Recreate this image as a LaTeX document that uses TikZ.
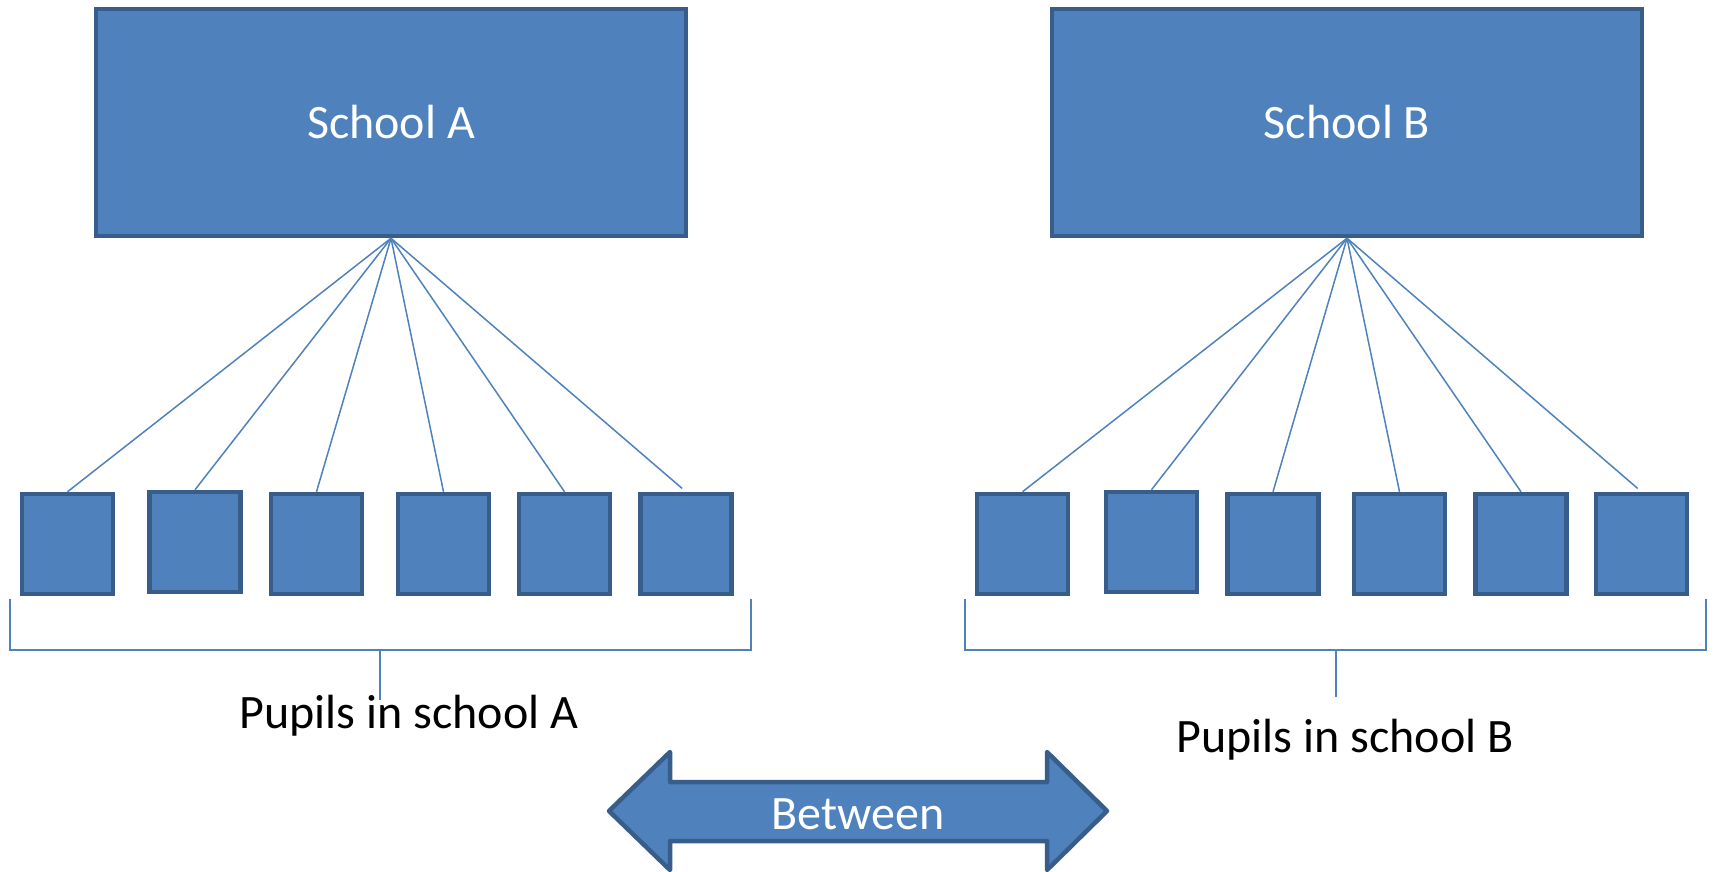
\documentclass[tikz,border=0pt]{standalone}
\usepackage{fontspec}
\setmainfont{Carlito}
\definecolor{boxfill}{HTML}{4F81BD}
\definecolor{boxedge}{HTML}{385D8A}
\tikzset{
  school/.style={draw=boxedge, fill=boxfill, line width=4.5pt, minimum width=590pt, minimum height=227pt, inner sep=0pt, text=white, font=\fontsize{48}{56}\selectfont},
  pupil/.style={draw=boxedge, fill=boxfill, line width=4.5pt, minimum width=91pt, minimum height=100pt, inner sep=0pt},
  link/.style={draw=boxfill, line width=1.5pt},
  brace/.style={draw=boxfill, line width=1.5pt},
  caption/.style={font=\fontsize{48}{56}\selectfont, text=black, inner sep=0pt},
  bigarrow/.style={draw=boxedge, fill=boxfill, line width=4.5pt, line join=round}
}
\begin{document}
\begin{tikzpicture}[x=1pt,y=-1pt]
\useasboundingbox (0,0) rectangle (1714,872);

% schools
\node[school] (sA) at (391,122.5) {School A};
\node[school] (sB) at (1347,122.5) {School B};

% pupils of school A
\node[pupil] (a1) at (67.5,544) {};
\node[pupil] (a2) at (195,542) {};
\node[pupil] (a3) at (316.5,544) {};
\node[pupil] (a4) at (443.5,544) {};
\node[pupil] (a5) at (564.5,544) {};
\node[pupil] (a6) at (686,544) {};

% pupils of school B
\node[pupil] (b1) at (1022.5,544) {};
\node[pupil] (b2) at (1151.5,542) {};
\node[pupil] (b3) at (1273,544) {};
\node[pupil] (b4) at (1399.5,544) {};
\node[pupil] (b5) at (1521,544) {};
\node[pupil] (b6) at (1641.5,544) {};

% links from each school to its pupils
\foreach \p in {a1,a2,a3,a4,a5}
  \draw[link] (sA.south) -- (\p.north);
\draw[link, shorten >=5pt] (sA.south) -- (a6.north);
\foreach \p in {b1,b2,b3,b4,b5}
  \draw[link] (sB.south) -- (\p.north);
\draw[link, shorten >=5pt] (sB.south) -- (b6.north);

% brackets under the pupils
\coordinate (brAl) at (10,599);
\coordinate (brAr) at (751,599);
\coordinate (brAm) at (380,650);
\draw[brace] (brAl) -- (10,650) -- (751,650) -- (brAr);
\draw[brace] (brAm) -- (380,700);
\node[caption] (capA) at (409,716) {Pupils in school A};

\coordinate (brBl) at (965,599);
\coordinate (brBr) at (1706,599);
\coordinate (brBm) at (1336,650);
\draw[brace] (brBl) -- (965,650) -- (1706,650) -- (brBr);
\draw[brace] (brBm) -- (1336,697);
\node[caption] (capB) at (1345,740) {Pupils in school B};

% double arrow
\draw[bigarrow] (609,811) -- (670,752) -- (670,782) -- (1047,782) -- (1047,752)
  -- (1107,811) -- (1047,870) -- (1047,841) -- (670,841) -- (670,870) -- cycle;
\node[caption, text=white] (between) at (858,814) {Between};
\end{tikzpicture}
\end{document}
